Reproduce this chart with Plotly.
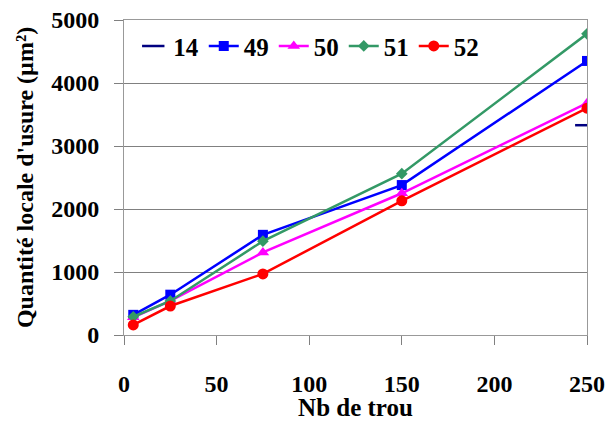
import plotly.graph_objects as go

x_vals = [5, 25, 75, 150, 250]
s14_x = [250]
s14_y = [3330]
s49 = [320, 640, 1590, 2380, 4350]
s50 = [280, 540, 1310, 2250, 3680]
s51 = [290, 540, 1490, 2560, 4780]
s52 = [160, 460, 970, 2130, 3600]

font_family = "Liberation Serif, Times New Roman, serif"

fig = go.Figure()
fig.add_trace(go.Scatter(x=s14_x, y=s14_y, name="14", mode="markers",
                         marker=dict(symbol="line-ew", size=17, line=dict(color="#000080", width=2.5))))
fig.add_trace(go.Scatter(x=x_vals, y=s49, name="49", mode="lines+markers",
                         line=dict(color="#0000FF", width=2.5),
                         marker=dict(symbol="square", size=10, color="#0000FF")))
fig.add_trace(go.Scatter(x=x_vals, y=s50, name="50", mode="lines+markers",
                         line=dict(color="#FF00FF", width=2.5),
                         marker=dict(symbol="triangle-up", size=11, color="#FF00FF")))
fig.add_trace(go.Scatter(x=x_vals, y=s51, name="51", mode="lines+markers",
                         line=dict(color="#339966", width=2.5),
                         marker=dict(symbol="diamond", size=9, color="#339966")))
fig.add_trace(go.Scatter(x=x_vals, y=s52, name="52", mode="lines+markers",
                         line=dict(color="#FF0000", width=2.5),
                         marker=dict(symbol="circle", size=11, color="#FF0000")))

fig.update_layout(
    width=609, height=421,
    margin=dict(l=124, r=22, t=20, b=86, autoexpand=False),
    paper_bgcolor="white", plot_bgcolor="white",
    font=dict(family=font_family, size=20, color="black"),
    showlegend=True,
    legend=dict(orientation="h", x=0.02, y=0.99, xanchor="left", yanchor="top",
                font=dict(family=font_family, size=25, color="black", weight="bold"),
                bgcolor="rgba(0,0,0,0)", itemwidth=30, tracegroupgap=0),
    xaxis=dict(range=[0, 250], tickvals=[0, 50, 100, 150, 200, 250],
               ticks="outside", ticklen=9, tickcolor="#808080",
               showgrid=False, zeroline=False,
               showline=True, linecolor="#999999", mirror=True,
               ticklabelstandoff=18, ticklabeloverflow="allow",
               tickfont=dict(family=font_family, size=24, weight="bold"),
               title=dict(text="Nb de trou", font=dict(family=font_family, size=25, weight="bold"), standoff=10)),
    yaxis=dict(range=[0, 5000], tickvals=[0, 1000, 2000, 3000, 4000, 5000],
               ticks="outside", ticklen=9, tickcolor="#808080",
               showgrid=True, gridcolor="#808080", gridwidth=1,
               zeroline=False, showline=True, linecolor="#999999", mirror=True,
               ticklabelstandoff=10, ticklabeloverflow="allow",
               tickfont=dict(family=font_family, size=24, weight="bold"),
               title=dict(text="Quantité locale d'usure (µm²)", font=dict(family=font_family, size=24, weight="bold"), standoff=10)),
)

fig.write_html("out.html", config={"displayModeBar": False},
               post_script="document.body.style.margin='0';document.body.style.overflow='hidden';")
